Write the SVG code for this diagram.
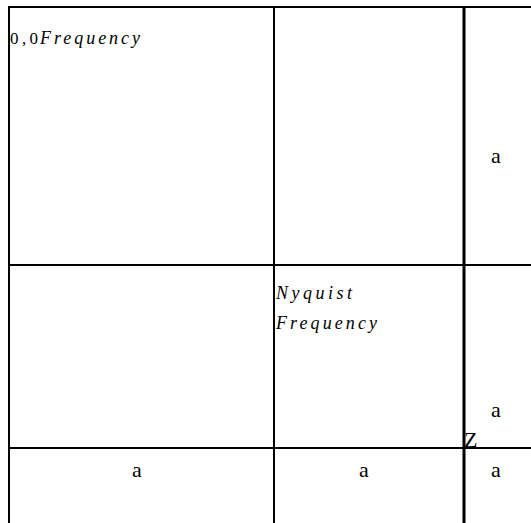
<svg xmlns="http://www.w3.org/2000/svg" width="531" height="523" viewBox="0 0 531 523">
<style>
.ln{stroke:#000;stroke-width:2;fill:none}
.thick{stroke:#000;stroke-width:3;fill:none}
.lbl{font-family:"Liberation Serif","Times New Roman",serif;font-size:22px;fill:#000}
.it{font-family:"Liberation Serif","Times New Roman",serif;font-style:italic;font-size:18px;fill:#000}
.num{font-family:"Liberation Serif","Times New Roman",serif;font-size:17px;fill:#000}
</style>
<rect width="531" height="523" fill="#fff"/>
<g id="connectors">
<line class="ln" x1="9" y1="7" x2="531" y2="7"/>
<line class="ln" x1="9" y1="265" x2="531" y2="265"/>
<line class="ln" x1="9" y1="448" x2="531" y2="448"/>
<line class="ln" x1="9" y1="6" x2="9" y2="523"/>
<line class="ln" x1="274" y1="6" x2="274" y2="523"/>
<line class="thick" x1="464" y1="6" x2="464" y2="523"/>
</g>
<g id="cell-origin">
<text class="num" x="10" y="44" textLength="28" lengthAdjust="spacing">0,0</text>
<text class="it" x="40" y="44" textLength="100" lengthAdjust="spacing">Frequency</text>
</g>
<g id="cell-nyquist">
<text class="it" x="276" y="299" textLength="76" lengthAdjust="spacing">Nyquist</text>
<text class="it" x="276" y="329" textLength="101" lengthAdjust="spacing">Frequency</text>
</g>
<g id="label-a1"><text class="lbl" x="496" y="163" text-anchor="middle">a</text></g>
<g id="label-a2"><text class="lbl" x="496" y="417" text-anchor="middle">a</text></g>
<g id="label-a3"><text class="lbl" x="137" y="477" text-anchor="middle">a</text></g>
<g id="label-a4"><text class="lbl" x="364" y="477" text-anchor="middle">a</text></g>
<g id="label-a5"><text class="lbl" x="496" y="477" text-anchor="middle">a</text></g>
<g id="label-z"><text class="lbl" x="464" y="447" font-size="18">Z</text></g>
</svg>
